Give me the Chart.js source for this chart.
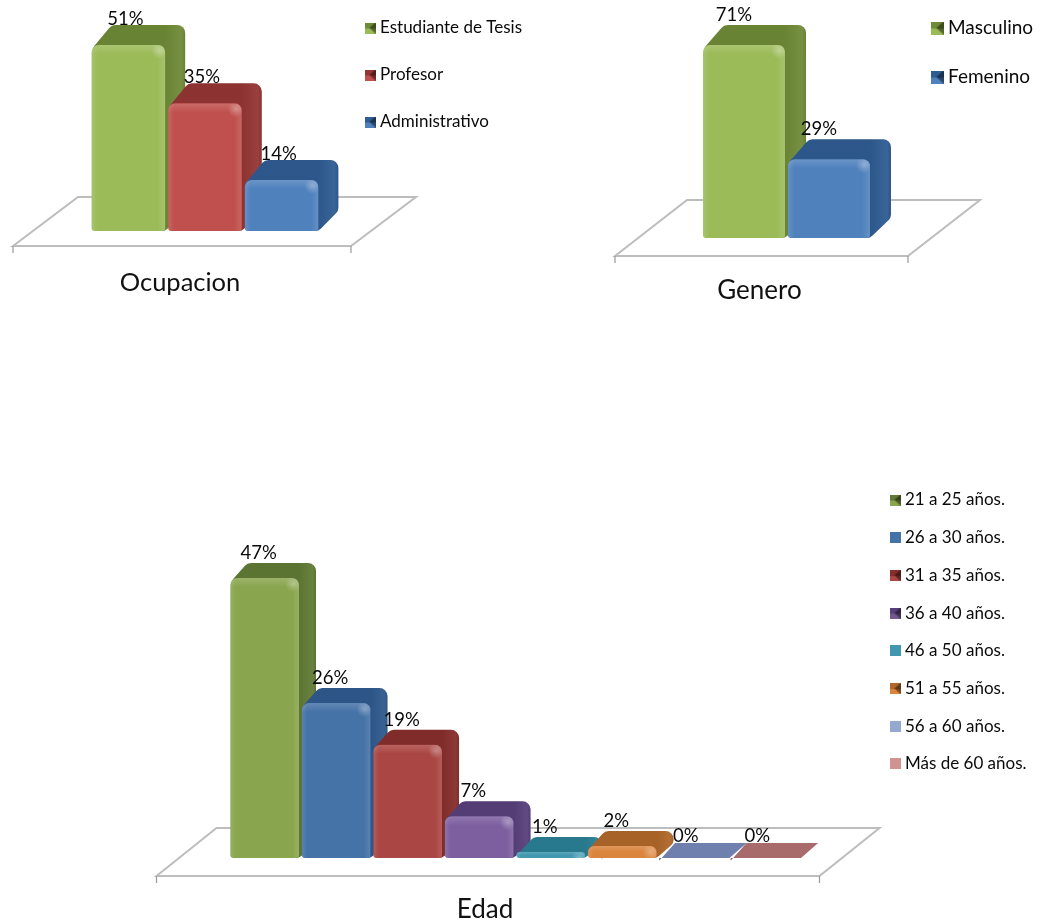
<!DOCTYPE html>
<html><head><meta charset="utf-8">
<style>
html,body{margin:0;padding:0;background:#fff;width:1041px;height:924px;overflow:hidden}
canvas{position:absolute;filter:blur(.45px)}
</style>
<script src="https://cdn.jsdelivr.net/npm/chart.js@4"></script>
</head><body>
<canvas id="a" style="left:0;top:0"></canvas>
<canvas id="b" style="left:540px;top:0"></canvas>
<canvas id="c" style="left:0;top:480px"></canvas>
<script>
const ocupacionTitle = 'Ocupacion';
const ocupacionSeries = ['Estudiante de Tesis', 'Profesor', 'Administrativo'];
const ocupacionValues = [51, 35, 14];
const ocupacionColors = ['#9BBB59', '#C0504D', '#4F81BD'];
const ocupacionSides  = ['#6F8A38', '#943634', '#2F5C92'];

const generoTitle = 'Genero';
const generoSeries = ['Masculino', 'Femenino'];
const generoValues = [71, 29];
const generoColors = ['#9BBB59', '#4F81BD'];
const generoSides  = ['#6F8A38', '#2F5C92'];

const edadTitle = 'Edad';
const edadSeries = ['21 a 25 años.', '26 a 30 años.', '31 a 35 años.', '36 a 40 años.', '46 a 50 años.', '51 a 55 años.', '56 a 60 años.', 'Más de 60 años.'];
const edadValues = [47, 26, 19, 7, 1, 2, 0, 0];
const edadColors = ['#89A54E', '#4572A7', '#AA4643', '#7D5FA0', '#4198AF', '#DB843D', '#6F80AE', '#A86B6B'];
const edadSides  = ['#617A34', '#2F5A8E', '#862E2C', '#57407A', '#2B7F95', '#B0672A', '#6F80AE', '#A86B6B'];
const edadLegendColors = ['#89A54E', '#4572A7', '#AA4643', '#71588F', '#4198AF', '#DB843D', '#93A9CF', '#D19392'];
const edadIconShaded = [true, false, true, true, false, true, false, false];

const FONT = 'Lato, Carlito, sans-serif';

function icon(color, side, shaded, s) {
  const c = document.createElement('canvas'); c.width = s; c.height = s;
  const g = c.getContext('2d');
  g.fillStyle = color; g.fillRect(0, 0, s, s);
  if (shaded) {
    g.fillStyle = side; g.fillRect(0, 0, s, s * .55);
    g.fillStyle = '#000'; g.globalAlpha = .45;
    g.beginPath(); g.moveTo(s, 0); g.lineTo(s * .45, s * .5); g.lineTo(s, s); g.closePath(); g.fill();
  }
  return c;
}

function roundedPoly(g, pts, r) {
  const n = pts.length;
  g.beginPath();
  g.moveTo((pts[n-1][0]+pts[0][0])/2, (pts[n-1][1]+pts[0][1])/2);
  for (let i = 0; i < n; i++) {
    const p = pts[i], q = pts[(i+1)%n];
    g.arcTo(p[0], p[1], q[0], q[1], r);
  }
  g.closePath();
}

const bars3d = {
  id: 'bars3d',
  afterLayout(chart) {
    const o = chart.options.plugins.bars3d, L = chart.legend;
    const pad = chart.options.plugins.legend.labels.padding;
    L.left = o.legendX - pad; L.right = chart.width;
    L.top = o.legendY - pad; L.bottom = chart.height;
  },
  beforeDatasetsDraw(chart) {
    const o = chart.options.plugins.bars3d, a = chart.chartArea, g = chart.ctx;
    const fl = a.left - o.floorDx, fr = a.right - o.floorDx, fy = a.bottom + o.floorDy;
    const bl = fl + o.floorBackX, br = fr + o.floorBackX, by = fy - o.floorBackY;
    g.save();
    g.strokeStyle = '#BDBDBD'; g.lineWidth = 2; g.lineJoin = 'miter';
    g.beginPath(); g.moveTo(fl, fy); g.lineTo(bl, by); g.lineTo(br, by); g.lineTo(fr, fy); g.closePath(); g.stroke();
    g.lineWidth = 1.2; g.strokeStyle = '#9A9A9A';
    g.beginPath(); g.moveTo(fl, fy); g.lineTo(fl, fy + 7); g.moveTo(fr, fy); g.lineTo(fr, fy + 7); g.stroke();
    // side and top faces, first series first, all under the front faces
    chart.data.datasets.forEach((d, i) => {
      const p = chart.getDatasetMeta(i).data[0].getProps(['x', 'y', 'base', 'width'], true);
      const flat = p.base - p.y <= 2;
      const x0 = p.x - p.width / 2 - (flat ? 1.5 : 0), x1 = p.x + p.width / 2 + (flat ? 1.5 : 0), dx = o.dx, dy = o.dy;
      g.fillStyle = d.sideColor;
      roundedPoly(g, [[x0 + 1, p.y + 3], [x0 + dx, p.y - dy], [x1 + dx, p.y - dy], [x1 + dx, p.base - dy], [x1, p.base], [x0 + 1, p.base]], flat ? 0.5 : 8);
      g.fill();
      if (!flat) {
        const lg = g.createLinearGradient(x1, 0, x1 + dx, 0);
        lg.addColorStop(0, 'rgba(0,0,0,.05)'); lg.addColorStop(.8, 'rgba(255,255,255,.05)'); lg.addColorStop(1, 'rgba(0,0,0,.06)');
        g.fillStyle = lg; g.fill();
      }
    });
    g.restore();
  },
  afterDatasetDraw(chart, args) {
    const g = chart.ctx;
    const el = chart.getDatasetMeta(args.index).data[0];
    const p = el.getProps(['x', 'y', 'base', 'width'], true);
    const h = p.base - p.y; if (h < 4) return;
    const x0 = p.x - p.width / 2, x1 = p.x + p.width / 2;
    g.save();
    g.beginPath(); g.roundRect(x0, p.y, p.width, h, [7, 7, 3, 3]); g.clip();
    const hg = g.createLinearGradient(x0, 0, x1, 0);
    hg.addColorStop(0, 'rgba(255,255,255,.12)'); hg.addColorStop(.08, 'rgba(255,255,255,.0)');
    hg.addColorStop(.9, 'rgba(255,255,255,.0)'); hg.addColorStop(1, 'rgba(255,255,255,.12)');
    g.fillStyle = hg; g.fillRect(x0, p.y, p.width, h);
    const bh = Math.min(9, h / 2);
    const vg = g.createLinearGradient(0, p.y, 0, p.y + bh);
    vg.addColorStop(0, 'rgba(255,255,255,.16)'); vg.addColorStop(1, 'rgba(255,255,255,0)');
    g.fillStyle = vg; g.fillRect(x0, p.y, p.width, bh);
    const rg = g.createRadialGradient(x1 - 6, p.y + 6, 0, x1 - 6, p.y + 6, 8);
    rg.addColorStop(0, 'rgba(255,255,255,.3)'); rg.addColorStop(1, 'rgba(255,255,255,0)');
    g.fillStyle = rg; g.fillRect(x1 - 15, p.y, 15, 15);
    g.restore();
  },
  afterDatasetsDraw(chart) {
    const o = chart.options.plugins.bars3d, g = chart.ctx;
    g.save();
    g.font = o.labelSize + 'px ' + FONT; g.fillStyle = '#0a0a0a';
    g.textAlign = 'center'; g.textBaseline = 'middle';
    chart.data.datasets.forEach((d, i) => {
      const p = chart.getDatasetMeta(i).data[0].getProps(['x', 'y', 'base'], true);
      const flat = p.base - p.y <= 2;
      g.fillText(d.data[0] + '%', p.x + o.labelDx - (flat ? 2 : 0), p.y + o.labelDy + (flat ? 3 : 0));
    });
    g.restore();
  }
};

function make(id, w, h, title, series, values, colors, sides, legendCols, shaded, c) {
  const cv = document.getElementById(id);
  cv.width = w; cv.height = h; cv.style.width = w + 'px'; cv.style.height = h + 'px';
  const datasets = series.map((s, i) => ({
    label: s, data: [values[i]], backgroundColor: colors[i], sideColor: sides[i],
    borderWidth: 0, borderSkipped: false,
    borderRadius: { topLeft: 7, topRight: 7, bottomLeft: 3, bottomRight: 3 }
  }));
  return new Chart(cv, {
    type: 'bar',
    data: { labels: [title], datasets },
    plugins: [bars3d],
    options: {
      responsive: false, animation: false, events: [],
      categoryPercentage: c.catPct, barPercentage: c.barPct,
      layout: { padding: { left: c.left, right: w - c.right, top: c.top, bottom: 0 } },
      scales: {
        y: { display: false, min: 0, max: Math.max(...values) },
        x: {
          border: { display: false },
          grid: { display: false, drawTicks: false },
          ticks: { color: '#111', font: { family: FONT, size: c.titleSize }, padding: c.titlePad, labelOffset: c.titleShift, maxRotation: 0, autoSkip: false },
          afterFit(s) { s.height = h - c.bottom; }
        }
      },
      plugins: {
        title: { display: false }, tooltip: { enabled: false },
        legend: {
          display: true, position: 'chartArea', align: 'start',
          labels: {
            color: '#0a0a0a', font: { family: FONT, size: c.legendSize },
            padding: c.legendGap - c.legendSize, usePointStyle: true, pointStyleWidth: c.iconSlot,
            generateLabels() {
              return series.map((s, i) => ({
                text: s, fontColor: '#0a0a0a', datasetIndex: i, hidden: false, lineWidth: 0,
                fillStyle: legendCols[i], strokeStyle: legendCols[i],
                pointStyle: icon(legendCols[i], sides[i], shaded[i], c.iconSize)
              }));
            }
          }
        },
        bars3d: {
          dx: c.dx, dy: c.dy, floorDx: c.floorDx, floorDy: c.floorDy, floorBackX: c.floorBackX, floorBackY: c.floorBackY,
          labelSize: c.labelSize, labelDx: c.labelDx, labelDy: c.labelDy,
          legendX: c.legendX, legendY: c.legendY
        }
      }
    }
  });
}

make('a', 540, 310, ocupacionTitle, ocupacionSeries, ocupacionValues, ocupacionColors, ocupacionSides, ocupacionColors, [true, true, true], {
  left: 36, right: 374, top: 45, bottom: 231, catPct: .68, barPct: .96,
  dx: 20, dy: 20, floorDx: 23, floorDy: 15, floorBackX: 65, floorBackY: 49,
  titleSize: 25.5, titlePad: 36, titleShift: -25,
  labelSize: 18.5, labelDx: -3, labelDy: -26,
  legendSize: 17, legendGap: 47, iconSlot: 3, iconSize: 11, legendX: 368.5, legendY: 19.5
});
make('b', 501, 310, generoTitle, generoSeries, generoValues, generoColors, generoSides, generoColors, [true, true], {
  left: 100, right: 393, top: 45, bottom: 238, catPct: .58, barPct: .965,
  dx: 21, dy: 20, floorDx: 25, floorDy: 18, floorBackX: 72, floorBackY: 56,
  titleSize: 26, titlePad: 37, titleShift: -27,
  labelSize: 18.5, labelDx: -10, labelDy: -30,
  legendSize: 19, legendGap: 49, iconSlot: 3, iconSize: 13, legendX: 395.5, legendY: 18.5
});
make('c', 1041, 444, edadTitle, edadSeries, edadValues, edadColors, edadSides, edadLegendColors, edadIconShaded, {
  left: 183.5, right: 846.5, top: 98, bottom: 378, catPct: .863, barPct: .96,
  dx: 17, dy: 15, floorDx: 27, floorDy: 18, floorBackX: 60, floorBackY: 48,
  titleSize: 26, titlePad: 36, titleShift: -30,
  labelSize: 18.5, labelDx: -6, labelDy: -25,
  legendSize: 17, legendGap: 37.7, iconSlot: 3, iconSize: 11, legendX: 893.5, legendY: 11.5
});
</script>
</body></html>
